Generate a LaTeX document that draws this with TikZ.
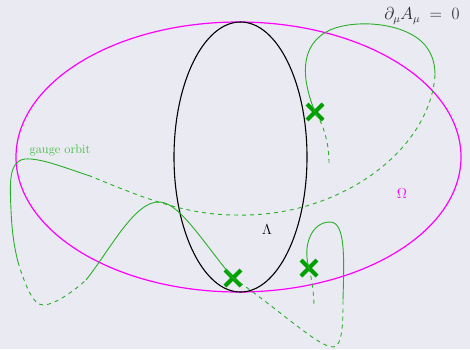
\documentclass[tikz,border=0pt]{standalone}
\usepackage{xcolor}
\usepackage{tikz}
\usetikzlibrary{shapes.misc,backgrounds}
\usepackage{amsmath}
\definecolor{bgpaper}{HTML}{EAEAF2}
\definecolor{orbitgreen}{RGB}{40,175,40}
\definecolor{markgreen}{RGB}{0,160,0}
\definecolor{labelgreen}{RGB}{60,190,60}
\definecolor{omegamag}{RGB}{255,0,255}
\definecolor{ink}{RGB}{40,40,40}
\tikzset{
  orbit/.style={draw=orbitgreen, line width=0.9pt},
  orbithid/.style={orbit, dash pattern=on 4pt off 4pt},
  crossmark/.style={cross out, draw=markgreen, line width=4pt,
    minimum size=12pt, inner sep=0pt},
  spaceline/.style={draw=omegamag, line width=1.2pt},
  slice/.style={draw=black, line width=1.1pt},
  labelnode/.style={font=\fontsize{12.5}{14}\selectfont, text=labelgreen}
}
\begin{document}
\begin{tikzpicture}[x=1pt,y=-1pt]
  \fill[bgpaper] (0,0) rectangle (470,349);
  \useasboundingbox (0,0) rectangle (470,349);

  % configuration space and gauge slice
  \coordinate (omc) at (238.5,157);
  \coordinate (lac) at (240.5,157);
  \draw[spaceline] (omc) ellipse [x radius=222.5pt, y radius=135pt];
  \draw[slice] (lac) ellipse [x radius=66.5pt, y radius=135pt];

  % crossings of the orbit with the gauge condition
  \node[crossmark] (x1) at (315,112) {};
  \node[crossmark] (x2) at (233,278) {};
  \node[crossmark] (x3) at (309,268) {};

  % orbit end points
  \coordinate (ea) at (329,163);
  \coordinate (eb) at (314,307);
  \coordinate (p1) at (435,75);
  \coordinate (p2) at (90,176);
  \coordinate (p3) at (18,262);
  \coordinate (p4) at (86,280);
  \coordinate (p5) at (343,300);

  % gauge orbit
  \draw[orbithid] (ea) .. controls (329,140) and (322,122) .. (x1.center);
  \draw[orbit] (x1.center) .. controls (302,80) and (298,45) .. (330,30)
    .. controls (355,19) and (405,22) .. (425,45)
    .. controls (433,55) and (435,65) .. (p1);
  \draw[orbithid] (p1) .. controls (430,150) and (340,218) .. (235,215)
    .. controls (180,215) and (130,192) .. (p2);
  \draw[orbit] (p2) .. controls (60,166) and (40,158) .. (25,159)
    .. controls (8,161) and (10,185) .. (11,210)
    .. controls (12,235) and (15,250) .. (p3);
  \draw[orbithid] (p3) .. controls (25,285) and (33,305) .. (43,305)
    .. controls (55,305) and (75,290) .. (p4);
  \draw[orbit] (p4) .. controls (110,250) and (135,200) .. (160,202)
    .. controls (180,203) and (205,245) .. (x2.center);
  \draw[orbithid] (x2.center) .. controls (275,306) and (318,347) .. (333,347)
    .. controls (343,347) and (343,320) .. (p5);
  \draw[orbit] (p5) .. controls (344,260) and (346,222) .. (330,222)
    .. controls (312,222) and (302,245) .. (x3.center);
  \draw[orbithid] (x3.center) .. controls (312,280) and (314,295) .. (eb);

  % labels
  \node[labelnode] (orbitlbl) at (60,150) {gauge orbit};
  \node[text=omegamag, font=\fontsize{14}{16}\selectfont] (omega) at (402,194) {$\Omega$};
  \node[text=black, font=\fontsize{15}{17}\selectfont] (lambda) at (267,230) {$\Lambda$};
  \node[text=ink, font=\fontsize{16}{18}\selectfont] (gauge) at (422,16)
    {$\partial_\mu A_\mu\;=\;0$};
\end{tikzpicture}
\end{document}
